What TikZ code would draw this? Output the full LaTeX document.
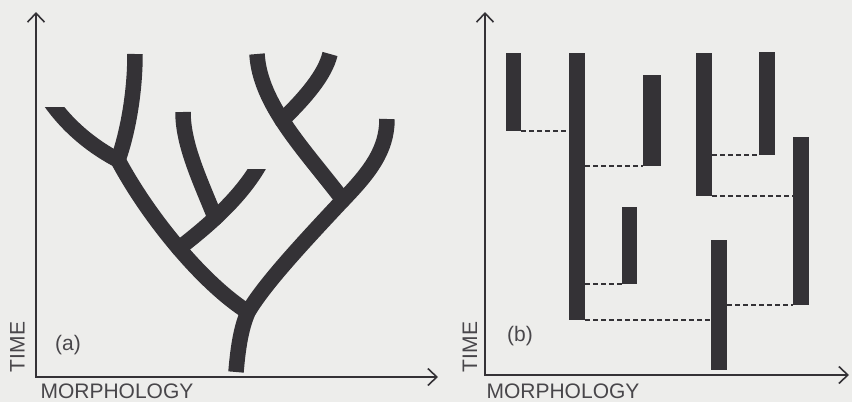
\documentclass[tikz,border=0pt]{standalone}
\usepackage{fontspec}
\setmainfont{Liberation Sans}
\usetikzlibrary{arrows.meta}
\definecolor{paper}{RGB}{237,237,235}
\definecolor{ink}{RGB}{52,50,54}
\newcommand{\axfont}{\fontsize{21}{24}\selectfont}

\begin{document}
\begin{tikzpicture}[
  x=1pt, y=-1pt,
  axis/.style={draw=ink, line width=1.6pt, {Straight Barb[length=9pt,width=17pt]}-{Straight Barb[length=9pt,width=17pt]}},
  lbl/.style={font=\axfont, text=ink!90, inner sep=0pt},
  twig/.style={draw=ink, line width=15.5pt, line cap=butt, line join=round},
  knot/.style={fill=ink},
  bar/.style={fill=ink, anchor=north west, inner sep=0pt, outer sep=0pt, minimum width=16pt},
  link/.style={draw=ink, line width=1.5pt, dash pattern=on 5pt off 3pt}]
\path[use as bounding box, fill=paper] (0,0) rectangle (852,402);
% axes
\coordinate (oa) at (36,377); \coordinate (ya) at (36,12); \coordinate (xa) at (438,377);
\coordinate (ob) at (485,375); \coordinate (yb) at (485,12); \coordinate (xb) at (849,375);
\draw[axis] (ya) -- (oa) -- (xa);
\draw[axis] (yb) -- (ob) -- (xb);
\node[lbl, rotate=90] (timea) at (17.5,347) {TIME};
\node[lbl] (taga) at (68,345) {(a)};
\node[lbl] (morpha) at (117,391) {MORPHOLOGY};
\node[lbl, rotate=90] (timeb) at (470,347) {TIME};
\node[lbl] (tagb) at (520,336) {(b)};
\node[lbl] (morphb) at (563,391) {MORPHOLOGY};
% (a) branching tree
\coordinate (j1) at (248,312);
\coordinate (j3) at (118,160);
\coordinate (j4) at (343,200);
\draw[twig] (236,372) .. controls (238,348) and (241,328) .. (j1)
  .. controls (264,285) and (298,248) .. (j4)
  .. controls (370,172) and (387,150) .. (387,119);
\draw[twig] (j1) .. controls (205,285) and (150,220) .. coordinate[pos=0.5] (j2) (j3);
\draw[twig] (j3) .. controls (127,135) and (135,95) .. (135,54);
\begin{scope}
\clip (0,107) rectangle (430,402);
\draw[twig] (j3) .. controls (95,148) and (68,128) .. (48,98);
\end{scope}
\begin{scope}
\clip (0,169) rectangle (430,402);
\draw[twig] (j2) .. controls (208,226) and (243,196) .. coordinate[pos=0.4] (j5) (262,160);
\end{scope}
\draw[twig] (j5) .. controls (200,180) and (183,145) .. (183,112);
\draw[twig] (j4) .. controls (305,150) and (260,105) .. coordinate[pos=0.55] (j6) (257,54);
\draw[twig] (j6) .. controls (305,98) and (325,75) .. (330,54);
\foreach \j in {j1,j2,j3,j4,j5,j6}
  \fill[knot] (\j) circle[radius=7.75pt];
% (b) punctuated bars
\node[bar, minimum width=15pt, minimum height=78pt] (b1) at (506,53) {};
\node[bar, minimum height=267pt] (b2) at (569,53) {};
\node[bar, minimum width=18pt, minimum height=91pt] (b3) at (643,75) {};
\node[bar, minimum width=15pt, minimum height=77pt] (b4) at (622,207) {};
\node[bar, minimum height=143pt] (b5) at (696,53) {};
\node[bar, minimum height=103pt] (b6) at (759,52) {};
\node[bar, minimum height=168pt] (b7) at (793,137) {};
\node[bar, minimum height=130pt] (b8) at (711,240) {};
\draw[link] (b1.south east) -- (b1.south east -| b2.west);
\draw[link] (b2.east |- b3.south west) -- (b3.south west);
\draw[link] (b2.east |- b4.south west) -- (b4.south west);
\draw[link] (b2.south east) -- (b2.south east -| b8.west);
\draw[link] (b5.east |- b6.south west) -- (b6.south west);
\draw[link] (b5.south east) -- (b5.south east -| b7.west);
\draw[link] (b8.east |- b7.south west) -- (b7.south west);
\end{tikzpicture}
\end{document}
